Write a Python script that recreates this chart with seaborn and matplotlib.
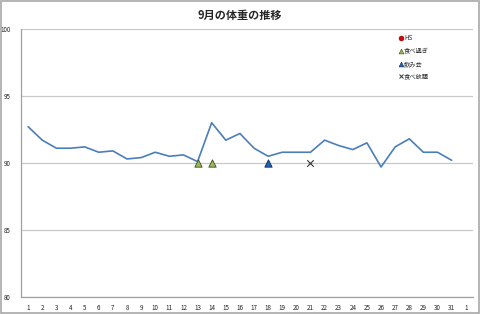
import matplotlib
matplotlib.use("Agg")
import matplotlib.pyplot as plt
import seaborn as sns
import pandas as pd
import numpy as np
from matplotlib.patches import Rectangle
from matplotlib.lines import Line2D

sns.set_style("white")
plt.rcParams['font.family'] = ['Noto Sans CJK JP', 'DejaVu Sans']

# ---- data ----
days = list(range(1, 32))
weights = [92.7, 91.7, 91.1, 91.1, 91.2, 90.8, 90.9, 90.3, 90.4, 90.8,
           90.5, 90.6, 90.1, 93.0, 91.7, 92.2, 91.1, 90.5, 90.8, 90.8,
           90.8, 91.7, 91.3, 91.0, 91.5, 89.7, 91.2, 91.8, 90.8, 90.8, 90.2]
tick_labels = [str(d) for d in days] + ["1"]
overeat_days = [13, 14]
overeat_vals = [90, 90]
drinking_days = [18]
drinking_vals = [90]
buffet_days = [21]
buffet_vals = [90]
hs_days = []
hs_vals = []
series_names = ["HS", "食べ過ぎ", "飲み会", "食べ放題"]
title = "9月の体重の推移"

fig = plt.figure(figsize=(4.8, 3.14), dpi=100)
ax = fig.add_axes([0.044, 0.054, 0.941, 0.854])

df = pd.DataFrame({"pos": [d - 1 for d in days], "w": weights})
sns.lineplot(data=df, x="pos", y="w", ax=ax, color="#4A7EBB", linewidth=1.2, zorder=3)

styles = [
    dict(marker="o", color="#E00000", edgecolor="#800000"),
    dict(marker="^", color="#9BBB59", edgecolor="#3B4A1F"),
    dict(marker="^", color="#1F63B5", edgecolor="#0D2A50"),
    dict(marker="x", color="#333333", edgecolor="#333333"),
]
all_days = [hs_days, overeat_days, drinking_days, buffet_days]
all_vals = [hs_vals, overeat_vals, drinking_vals, buffet_vals]
for dd, vv, st in zip(all_days, all_vals, styles):
    if len(dd):
        if st["marker"] == "x":
            sns.scatterplot(x=[d - 1 for d in dd], y=vv, ax=ax, marker="x", s=22,
                            color=st["color"], linewidth=0.8, zorder=4)
        else:
            sns.scatterplot(x=[d - 1 for d in dd], y=vv, ax=ax, marker=st["marker"], s=28,
                            color=st["color"], edgecolor=st["edgecolor"], linewidth=0.6, zorder=4)

ax.set_xlim(-0.5, 31.5)
ax.set_ylim(80, 100)
ax.set_yticks([80, 85, 90, 95, 100])
ax.set_xticks(range(32))
ax.set_xticklabels(tick_labels)
ax.set_xticks(np.arange(-0.5, 32, 1), minor=True)
ax.tick_params(axis="x", which="major", length=0, labelsize=4.5, pad=5, colors="#222222")
ax.tick_params(axis="x", which="minor", length=2.5, width=0.6, color="#A0A0A0", direction="out")
ax.tick_params(axis="y", length=2.5, width=0.6, color="#A0A0A0", labelsize=4.5, pad=5, colors="#222222")
ax.tick_params(axis="y", color="#A0A0A0")
ax.set_xlabel("")
ax.set_ylabel("")
ax.grid(axis="y", color="#C8C8C8", linewidth=0.9)
ax.set_axisbelow(True)
for s in ["top", "right"]:
    ax.spines[s].set_visible(False)
for s in ["left", "bottom"]:
    ax.spines[s].set_color("#A0A0A0")
    ax.spines[s].set_linewidth(0.9)

fig.text(0.5, 0.952, title, ha="center", va="center", fontsize=8, fontweight="bold")

handles = []
for name, st in zip(series_names, styles):
    if st["marker"] == "x":
        h = Line2D([], [], linestyle="none", marker="x", markersize=3.5,
                   color=st["color"], markeredgewidth=0.7)
    else:
        h = Line2D([], [], linestyle="none", marker=st["marker"], markersize=3.5,
                   markerfacecolor=st["color"], markeredgecolor=st["edgecolor"],
                   markeredgewidth=0.4)
    handles.append(h)
ax.legend(handles, series_names, loc="upper left", bbox_to_anchor=(393 / 480, 1 - 30 / 314),
          bbox_transform=fig.transFigure, frameon=False, fontsize=4.5,
          labelspacing=0.75, handletextpad=0.1, handlelength=1.0, borderpad=0.2)

fig.patches.append(Rectangle((0.002, 0.003), 0.996, 0.994, transform=fig.transFigure,
                             fill=False, edgecolor="#A8A8A8", linewidth=1.2))

fig.savefig("out.png", dpi=100)
